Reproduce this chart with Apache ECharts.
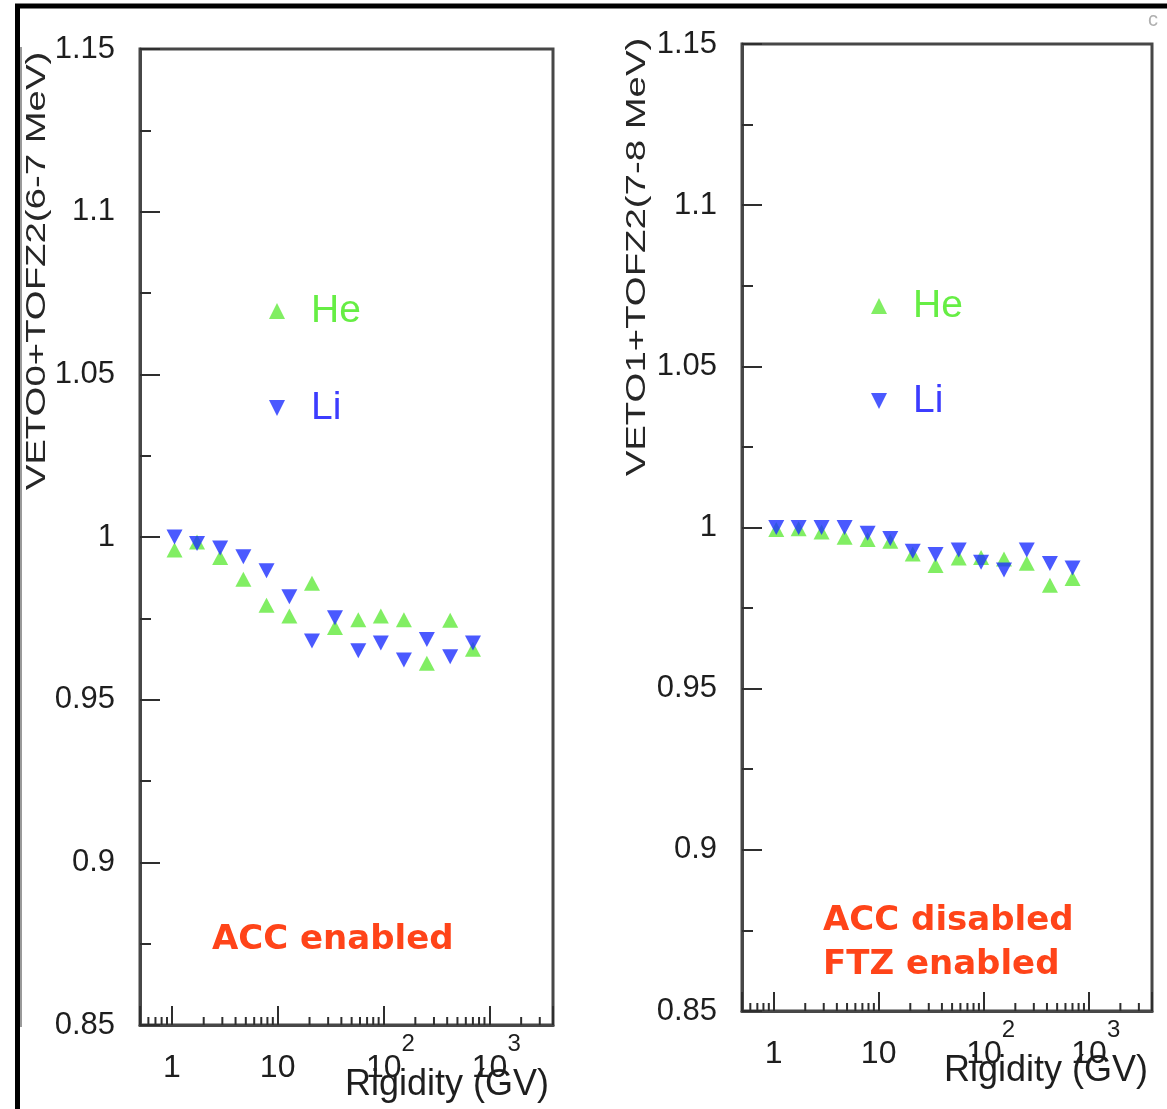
<!DOCTYPE html>
<html>
<head>
<meta charset="utf-8">
<script src="https://cdn.jsdelivr.net/npm/echarts@6/dist/echarts.min.js"></script>
<style>
  html, body { margin: 0; padding: 0; background: #ffffff; }
  #chart { width: 1167px; height: 1109px; }
</style>
</head>
<body>
<div id="chart"></div>
<script>
// Rigidity bin centres (GV), shared by both panels
const rigidity = [1.06, 1.73, 2.86, 4.74, 7.85, 12.9, 21.1, 34.8, 57.8, 94.4, 156, 257, 427, 701];

// Panel 1: VETO0 + TOFZ2 (6-7 MeV), ACC enabled
const heAccOn = [0.996, 0.9985, 0.9937, 0.987, 0.979, 0.9757, 0.9858, 0.9722, 0.9746, 0.9757, 0.9746, 0.9612, 0.9744, 0.9655];
const liAccOn = [1.000, 0.998, 0.9966, 0.9939, 0.9896, 0.9816, 0.968, 0.9752, 0.965, 0.9674, 0.9622, 0.9685, 0.9632, 0.9674];

// Panel 2: VETO1 + TOFZ2 (7-8 MeV), ACC disabled / FTZ enabled
const heFtzOn = [0.9994, 0.9996, 0.9986, 0.997, 0.9963, 0.9957, 0.9918, 0.9882, 0.9905, 0.9907, 0.9902, 0.9889, 0.9821, 0.9842];
const liFtzOn = [1.000, 1.000, 1.000, 1.000, 0.9982, 0.9966, 0.9926, 0.9916, 0.993, 0.9892, 0.9868, 0.993, 0.9888, 0.9874];

// Axis ranges and ticks
const xRange = [0.5, 4000];
const yRange = [0.85, 1.15];
const yStep = 0.05;
const xMinorTicks = [0.6, 0.7, 0.8, 0.9, 2, 3, 4, 5, 6, 7, 8, 9, 20, 30, 40, 50, 60, 70, 80, 90,
                     200, 300, 400, 500, 600, 700, 800, 900, 2000, 3000];
const xTickText = ['{b|1}', '{b|10}', '{bs|10}{s|2}', '{bs|10}{s|3}'];

const yTitles = ['VETO0+TOFZ2(6-7 MeV)', 'VETO1+TOFZ2(7-8 MeV)'];
const xTitle = 'Rigidity (GV)';
const notes = [['ACC enabled'], ['ACC disabled', 'FTZ enabled']];

const FONT = '"Liberation Sans", Arial, Helvetica, sans-serif';
const INK = '#1e1e1e';
const BOX = '#474747';
const HE_COLOR = '#62ea3c';
const LI_COLOR = '#1d30ff';
const NOTE_COLOR = '#ff4419';
const UP_TRIANGLE = 'path://M5,0L10,10L0,10Z';
const DOWN_TRIANGLE = 'path://M0,0L10,0L5,10Z';

const grids = [
  { left: 140, top: 49, width: 413, height: 976 },
  { left: 742, top: 44, width: 410, height: 967 }
];

function pairs(ys) { return rigidity.map((x, i) => [x, ys[i]]); }

function decadeLabel(v) {
  const k = Math.round(Math.log10(v));
  if (Math.abs(v / Math.pow(10, k) - 1) > 1e-6 || k < 0 || k >= xTickText.length) return '';
  return xTickText[k];
}

function makeXAxis(g) {
  return {
    type: 'log', logBase: 10, gridIndex: g, min: xRange[0], max: xRange[1],
    axisLine: { lineStyle: { color: BOX, width: 3 } },
    axisTick: { inside: true, length: 19, lineStyle: { color: '#2e2e2e', width: 2 } },
    minorTick: { show: false },
    splitLine: { show: false },
    axisLabel: {
      margin: 7,
      formatter: decadeLabel,
      rich: {
        b:  { fontSize: 32, fontFamily: FONT, color: INK, padding: [20, 0, 0, 0], verticalAlign: 'bottom' },
        bs: { fontSize: 32, fontFamily: FONT, color: INK, padding: [20, 0, 0, 14], verticalAlign: 'bottom' },
        s:  { fontSize: 24, fontFamily: FONT, color: INK, verticalAlign: 'top' }
      }
    }
  };
}

function makeYAxis(g) {
  return {
    type: 'value', gridIndex: g, min: yRange[0], max: yRange[1], interval: yStep,
    axisLine: { show: true, lineStyle: { color: BOX, width: 3 } },
    axisTick: { inside: true, length: 20, lineStyle: { color: '#2e2e2e', width: 2 } },
    minorTick: { show: true, splitNumber: 2, length: 11, lineStyle: { color: '#2e2e2e', width: 2 } },
    splitLine: { show: false },
    axisLabel: { margin: 25, fontSize: 31, fontFamily: FONT, color: INK }
  };
}

// short log-decade ticks along the bottom edge
function minorTickSeries(g) {
  return {
    type: 'custom', xAxisIndex: g, yAxisIndex: g, silent: true, clip: false, z: 5,
    data: xMinorTicks.map(v => [v, yRange[0]]),
    renderItem: (params, api) => {
      const c = api.coord([api.value(0), api.value(1)]);
      return {
        type: 'line',
        shape: { x1: c[0], y1: c[1], x2: c[0], y2: c[1] - 8 },
        style: { stroke: '#2e2e2e', lineWidth: 2 }
      };
    }
  };
}

function scatter(name, g, ys) {
  const up = name === 'He';
  return {
    name, type: 'scatter', xAxisIndex: g, yAxisIndex: g,
    symbol: up ? UP_TRIANGLE : DOWN_TRIANGLE,
    symbolSize: [16, 15],
    itemStyle: { color: up ? HE_COLOR : LI_COLOR },
    data: pairs(ys), z: up ? 3 : 4
  };
}

function makeLegend(left, top, gap) {
  return {
    left, top, orient: 'vertical', itemWidth: 58, itemHeight: 16, itemGap: gap,
    selectedMode: false, symbolKeepAspect: true,
    textStyle: { fontSize: 39, fontFamily: FONT, lineHeight: 40 },
    data: [
      { name: 'He', textStyle: { color: '#66ee44' } },
      { name: 'Li', textStyle: { color: '#3c3cff' } }
    ]
  };
}

function yTitle(text, x, y) {
  return {
    type: 'text', x, y, rotation: Math.PI / 2, scaleX: 1.42,
    style: { text, fontSize: 27, fontFamily: FONT, fill: '#262626', align: 'center', verticalAlign: 'middle' }
  };
}

function label(text, x, y, opts) {
  return {
    type: 'text', x, y,
    style: Object.assign({ text, fontFamily: FONT, fill: INK, verticalAlign: 'middle' }, opts)
  };
}

function noteText(text, x, y) {
  return label(text, x, y, { fontSize: 34, fontWeight: 'bold', fontFamily: '"DejaVu Sans", sans-serif', fill: NOTE_COLOR, align: 'left' });
}

const chart = echarts.init(document.getElementById('chart'), null, { renderer: 'canvas' });

chart.setOption({
  backgroundColor: '#ffffff',
  animation: false,
  grid: grids.map(g => Object.assign({ show: true, borderColor: BOX, borderWidth: 3, backgroundColor: 'transparent' }, g)),
  xAxis: [makeXAxis(0), makeXAxis(1)],
  yAxis: [makeYAxis(0), makeYAxis(1)],
  legend: [makeLegend(264, 286, 57), makeLegend(866, 281, 55)],
  series: [
    scatter('He', 0, heAccOn),
    scatter('Li', 0, liAccOn),
    scatter('He', 1, heFtzOn),
    scatter('Li', 1, liFtzOn),
    minorTickSeries(0),
    minorTickSeries(1)
  ],
  graphic: [
    // outer frame
    { type: 'line', shape: { x1: 15, y1: 6, x2: 1167, y2: 6 }, style: { stroke: '#000', lineWidth: 5 } },
    { type: 'line', shape: { x1: 17.5, y1: 4, x2: 17.5, y2: 1109 }, style: { stroke: '#000', lineWidth: 5 } },
    { type: 'line', shape: { x1: 21, y1: 47, x2: 21, y2: 1027 }, style: { stroke: '#9a9a9a', lineWidth: 2 } },
    label('c', 1153, 20, { fontSize: 20, fill: '#b0b0b0', align: 'center' }),
    // axis titles
    yTitle(yTitles[0], 38, 271),
    yTitle(yTitles[1], 638, 257),
    label(xTitle, 549, 1085, { fontSize: 36, align: 'right' }),
    label(xTitle, 1148, 1071, { fontSize: 36, align: 'right' }),
    // panel annotations
    noteText(notes[0][0], 212, 940),
    noteText(notes[1][0], 823, 921),
    noteText(notes[1][1], 823, 965)
  ]
});
</script>
</body>
</html>
